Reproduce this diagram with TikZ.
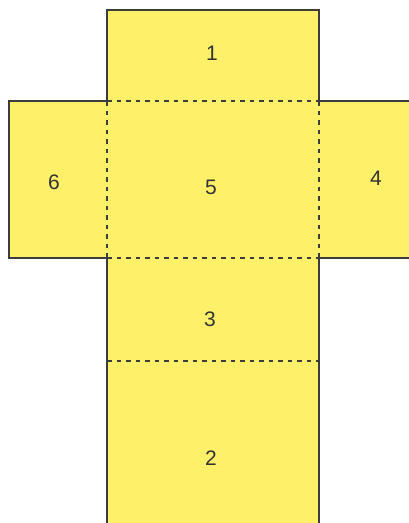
\documentclass[tikz,border=0pt]{standalone}
\usepackage{fontspec}
\setmainfont{Liberation Sans}
\definecolor{netyellow}{RGB}{255,240,105}
\definecolor{netedge}{RGB}{60,60,60}
\tikzset{
  fold/.style={draw=netedge, line width=1.6pt, dash pattern=on 4.5pt off 5pt},
  cut/.style={draw=netedge, line width=2.2pt, line join=miter},
  facelabel/.style={font=\fontsize{21}{23}\selectfont, text=black!80}
}
\begin{document}
\begin{tikzpicture}[x=1pt,y=-1pt]
\useasboundingbox (0,0) rectangle (409,523);
\begin{scope}
\clip (0,0) rectangle (409,523);
\fill[netyellow] (107,10) -- (319,10) -- (319,101) -- (420,101) -- (420,258) -- (319,258) -- (319,540) -- (107,540) -- (107,258) -- (9,258) -- (9,101) -- (107,101) -- cycle;
\draw[cut] (107,540) -- (107,258) -- (9,258) -- (9,101) -- (107,101) -- (107,10) -- (319,10) -- (319,101) -- (420,101);
\draw[cut] (420,258) -- (319,258) -- (319,540);
\draw[fold] (107,101) -- (319,101);
\draw[fold] (107,101) -- (107,258);
\draw[fold] (319,101) -- (319,258);
\draw[fold] (107,258) -- (319,258);
\draw[fold] (107,361) -- (319,361);
\end{scope}
\node[facelabel] (f1) at (212,53) {1};
\node[facelabel] (f6) at (54,182) {6};
\node[facelabel] (f5) at (211,187) {5};
\node[facelabel] (f4) at (376,178) {4};
\node[facelabel] (f3) at (210,319) {3};
\node[facelabel] (f2) at (211,458) {2};
\end{tikzpicture}
\end{document}
